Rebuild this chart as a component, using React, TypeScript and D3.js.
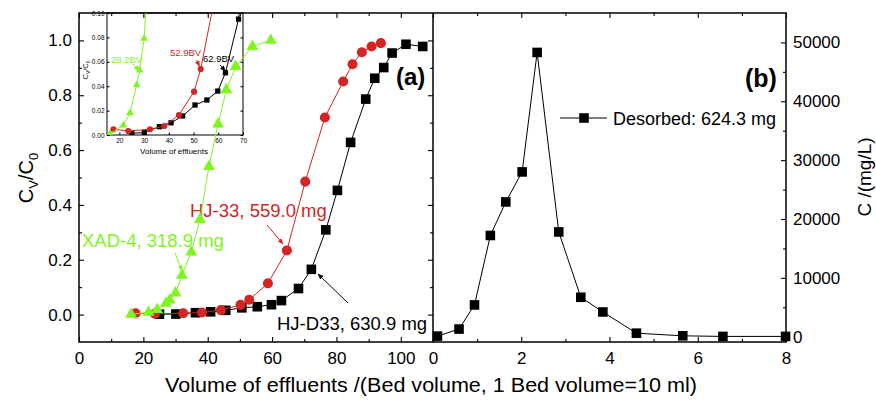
import { useEffect, useRef } from "react";
import * as d3 from "d3";

// (a) breakthrough curves: bed volumes vs C/C0
const xadBV = [16.2, 21.6, 24.3, 27.0, 28.2, 30.0, 32.0, 34.9, 37.6, 40.4, 43.2, 45.8, 48.7, 53.9, 59.6];
const xadC = [0.001, 0.008, 0.018, 0.041, 0.053, 0.079, 0.143, 0.228, 0.347, 0.54, 0.695, 0.82, 0.905, 0.978, 1.0];

const hj33BV = [17.6, 23.6, 32.4, 38.2, 44.1, 50.2, 52.9, 58.7, 64.6, 70.3, 76.4, 82.1, 85.0, 87.9, 90.9, 93.8];
const hj33C = [0.0047, 0.0033, 0.0047, 0.0074, 0.0164, 0.0355, 0.054, 0.114, 0.234, 0.485, 0.719, 0.85, 0.913, 0.957, 0.978, 0.99];

const hjd33BV = [25.0, 30.1, 36.2, 40.9, 45.6, 50.6, 55.4, 59.8, 62.9, 68.2, 72.2, 76.7, 80.3, 84.4, 89.1, 91.9, 94.7, 97.3, 101.6, 106.8];
const hjd33C = [0.0014, 0.002, 0.0068, 0.01, 0.0156, 0.0246, 0.0287, 0.036, 0.051, 0.095, 0.165, 0.309, 0.453, 0.628, 0.786, 0.862, 0.901, 0.954, 0.986, 0.978];

// (b) desorption: bed volumes vs C (mg/L)
const desBV = [0.1, 0.59, 0.94, 1.3, 1.65, 2.02, 2.36, 2.85, 3.35, 3.85, 4.61, 5.66, 6.57, 7.99];
const desC = [100, 1300, 5400, 17200, 22900, 28000, 48300, 17800, 6700, 4200, 600, 150, 50, 50];

const aTicksX = [0, 20, 40, 60, 80, 100];
const aMinorX = [10, 30, 50, 70, 90];
const aTicksY = [0, 0.2, 0.4, 0.6, 0.8, 1.0];
const aMinorY = [0.1, 0.3, 0.5, 0.7, 0.9];
const bTicksX = [0, 2, 4, 6, 8];
const bMinorX = [1, 3, 5, 7];
const bTicksY = [0, 10000, 20000, 30000, 40000, 50000];
const bMinorY = [5000, 15000, 25000, 35000, 45000];
const inTicksX = [20, 30, 40, 50, 60, 70];
const inTicksY = [0, 0.02, 0.04, 0.06, 0.08, 0.1];

const GREEN = "#7ef51f";
const RED = "#d42424";
const FONT = "'Liberation Sans', Arial, Helvetica, sans-serif";

function axis(parent: any, gen: any, transform: string, size: number) {
  const g = parent.append("g").attr("transform", transform).call(gen);
  g.select(".domain").remove();
  g.selectAll(".tick line").attr("stroke", "#000").attr("stroke-width", 1.1);
  g.selectAll(".tick text").attr("font-family", FONT).attr("font-size", size).attr("fill", "#000");
  return g;
}

function series(g: any, xs: number[], ys: number[], x: any, y: any, color: string, shape: any, area: number, lw = 1) {
  const pts = xs.map((d, i) => [x(d), y(ys[i])] as [number, number]);
  g.append("path")
    .attr("d", d3.line()(pts))
    .attr("fill", "none")
    .attr("stroke", color)
    .attr("stroke-width", lw);
  g.selectAll(null)
    .data(pts)
    .join("path")
    .attr("transform", (d: any) => `translate(${d[0]},${d[1]})`)
    .attr("d", d3.symbol().type(shape).size(area)())
    .attr("fill", color);
}

function label(g: any, s: string, x: number, y: number, size: number, color = "#000", extra: any = {}) {
  const t = g.append("text")
    .attr("x", x).attr("y", y)
    .attr("font-family", FONT).attr("font-size", size).attr("fill", color)
    .text(s);
  Object.entries(extra).forEach(([k, v]) => t.attr(k, v));
  return t;
}

function arrow(g: any, x1: number, y1: number, x2: number, y2: number, color: string, id: string) {
  g.append("line")
    .attr("x1", x1).attr("y1", y1).attr("x2", x2).attr("y2", y2)
    .attr("stroke", color).attr("stroke-width", 1)
    .attr("marker-end", `url(#${id})`);
}

function draw(svg: any) {
  const top = 13, bottom = 342, aL = 79, mid = 433, bR = 786;
  const xA = d3.scaleLinear().domain([0, 110]).range([aL, mid]);
  const yA = d3.scaleLinear().domain([-0.1, 1.1]).range([bottom, top]);
  const xB = d3.scaleLinear().domain([0, 8]).range([mid, bR]);
  const yB = d3.scaleLinear().domain([-900, 55000]).range([bottom, top]);
  const inL = 107, inR = 243, inB = 135;
  const xI = d3.scaleLinear().domain([15, 70]).range([inL, inR]);
  const yI = d3.scaleLinear().domain([0, 0.1]).range([inB, top]);

  const defs = svg.append("defs");
  [["ahG", GREEN], ["ahR", RED], ["ahK", "#000"]].forEach(([id, c]) => {
    defs.append("marker")
      .attr("id", id).attr("viewBox", "0 0 10 10").attr("refX", 9).attr("refY", 5)
      .attr("markerWidth", 6).attr("markerHeight", 6).attr("orient", "auto")
      .attr("markerUnits", "userSpaceOnUse")
      .append("path").attr("d", "M0,1L10,5L0,9Z").attr("fill", c);
  });
  defs.append("clipPath").attr("id", "inclip")
    .append("rect").attr("x", inL).attr("y", top).attr("width", inR - inL).attr("height", inB - top);

  const fmt1 = d3.format(".1f");
  // panel (a) axes
  axis(svg, d3.axisBottom(xA).tickValues(aTicksX).tickSize(-5).tickPadding(10).tickFormat(d3.format("d")), `translate(0,${bottom})`, 17);
  axis(svg, d3.axisBottom(xA).tickValues(aMinorX).tickSize(-3).tickFormat(() => ""), `translate(0,${bottom})`, 17);
  axis(svg, d3.axisTop(xA).tickValues(aTicksX).tickSize(-5).tickFormat(() => ""), `translate(0,${top})`, 17);
  axis(svg, d3.axisTop(xA).tickValues(aMinorX).tickSize(-3).tickFormat(() => ""), `translate(0,${top})`, 17);
  axis(svg, d3.axisLeft(yA).tickValues(aTicksY).tickSize(-5).tickPadding(7).tickFormat((d: any) => fmt1(d)), `translate(${aL},0)`, 17);
  axis(svg, d3.axisLeft(yA).tickValues(aMinorY).tickSize(-3).tickFormat(() => ""), `translate(${aL},0)`, 17);
  axis(svg, d3.axisRight(yA).tickValues(aTicksY).tickSize(-5).tickFormat(() => ""), `translate(${mid},0)`, 17);
  axis(svg, d3.axisRight(yA).tickValues(aMinorY).tickSize(-3).tickFormat(() => ""), `translate(${mid},0)`, 17);

  // panel (b) axes
  axis(svg, d3.axisBottom(xB).tickValues(bTicksX).tickSize(-5).tickPadding(10).tickFormat(d3.format("d")), `translate(0,${bottom})`, 17);
  axis(svg, d3.axisBottom(xB).tickValues(bMinorX).tickSize(-3).tickFormat(() => ""), `translate(0,${bottom})`, 17);
  axis(svg, d3.axisTop(xB).tickValues(bTicksX).tickSize(-5).tickFormat(() => ""), `translate(0,${top})`, 17);
  axis(svg, d3.axisTop(xB).tickValues(bMinorX).tickSize(-3).tickFormat(() => ""), `translate(0,${top})`, 17);
  axis(svg, d3.axisRight(yB).tickValues(bTicksY).tickSize(-5).tickPadding(7).tickFormat(d3.format("d")), `translate(${bR},0)`, 17);
  axis(svg, d3.axisRight(yB).tickValues(bMinorY).tickSize(-3).tickFormat(() => ""), `translate(${bR},0)`, 17);

  // frames
  svg.append("rect").attr("x", aL).attr("y", top).attr("width", bR - aL).attr("height", bottom - top)
    .attr("fill", "none").attr("stroke", "#000").attr("stroke-width", 1.5);
  svg.append("line").attr("x1", mid).attr("x2", mid).attr("y1", top).attr("y2", bottom)
    .attr("stroke", "#000").attr("stroke-width", 1.5);

  // axis titles
  label(svg, "Volume of effluents /(Bed volume, 1 Bed volume=10 ml)", 431, 392, 20, "#000", { "text-anchor": "middle", textLength: 532, lengthAdjust: "spacingAndGlyphs" });
  const yl = svg.append("text").attr("transform", "translate(33,178) rotate(-90)")
    .attr("font-family", FONT).attr("font-size", 20).attr("text-anchor", "middle");
  yl.append("tspan").text("C");
  yl.append("tspan").text("V").attr("font-size", 13).attr("dy", 5);
  yl.append("tspan").text("/C").attr("dy", -5);
  yl.append("tspan").text("0").attr("font-size", 13).attr("dy", 5);
  label(svg, "C /(mg/L)", 0, 0, 19, "#000", { transform: "translate(871,177) rotate(-90)", "text-anchor": "middle" });

  label(svg, "(a)", 396, 85, 24, "#000", { "font-weight": "bold" });
  label(svg, "(b)", 745, 87, 25, "#000", { "font-weight": "bold" });

  // panel (a) annotations (text under the data lines)
  label(svg, "XAD-4, 318.9 mg", 82, 247, 18.5, GREEN);
  label(svg, "HJ-33, 559.0 mg", 190, 217, 18.5, RED);
  label(svg, "HJ-D33, 630.9 mg", 277, 330, 18.5, "#000");
  arrow(svg, 175, 253, 182, 271, GREEN, "ahG");
  arrow(svg, 267, 225, 283, 244, RED, "ahR");
  arrow(svg, 348, 303, 318, 274, "#000", "ahK");

  // inset
  const ins = svg.append("g");
  ins.append("rect").attr("x", inL).attr("y", top).attr("width", inR - inL).attr("height", inB - top)
    .attr("fill", "none").attr("stroke", "#000").attr("stroke-width", 1);
  axis(ins, d3.axisBottom(xI).tickValues(inTicksX).tickSize(-2.5).tickPadding(3).tickFormat(d3.format("d")), `translate(0,${inB})`, 6.5);
  axis(ins, d3.axisLeft(yI).tickValues(inTicksY).tickSize(-2.5).tickPadding(2.5).tickFormat(d3.format(".2f")), `translate(${inL},0)`, 6.5);
  axis(ins, d3.axisRight(yI).tickValues(inTicksY).tickSize(-2.5).tickFormat(() => ""), `translate(${inR},0)`, 6.5);
  label(ins, "Volume of effluents", 174, 154, 8, "#000", { "text-anchor": "middle" });
  const il = ins.append("text").attr("transform", "translate(88,70) rotate(-90)")
    .attr("font-family", FONT).attr("font-size", 7.5).attr("text-anchor", "middle");
  il.append("tspan").text("C");
  il.append("tspan").text("V").attr("font-size", 5).attr("dy", 2);
  il.append("tspan").text("/C").attr("dy", -2);
  il.append("tspan").text("0").attr("font-size", 5).attr("dy", 2);

  label(ins, "28.2BV", 111, 63, 9.5, GREEN);
  label(ins, "52.9BV", 170, 56, 9.5, RED);
  label(ins, "62.9BV", 203, 62, 9.5, "#000");
  const insData = ins.append("g").attr("clip-path", "url(#inclip)");
  arrow(insData, 133, 64, 139.5, 70.5, GREEN, "ahG");
  arrow(insData, 196.5, 60, 199.5, 66.5, RED, "ahR");
  arrow(insData, 220, 65, 225.5, 71, "#000", "ahK");
  series(insData, hjd33BV, hjd33C, xI, yI, "#000", d3.symbolSquare, 28);
  series(insData, hj33BV, hj33C, xI, yI, RED, d3.symbolCircle, 30);
  series(insData, xadBV, xadC, xI, yI, GREEN, d3.symbolTriangle, 26);

  // panel (a) data
  const gA = svg.append("g");
  series(gA, hjd33BV, hjd33C, xA, yA, "#000", d3.symbolSquare, 92);
  series(gA, hj33BV, hj33C, xA, yA, RED, d3.symbolCircle, 80);
  series(gA, xadBV, xadC, xA, yA, GREEN, d3.symbolTriangle, 62);

  // panel (b) data + legend
  const gB = svg.append("g");
  series(gB, desBV, desC, xB, yB, "#000", d3.symbolSquare, 92);
  gB.append("line").attr("x1", 560).attr("x2", 607).attr("y1", 118).attr("y2", 118).attr("stroke", "#000").attr("stroke-width", 1);
  gB.append("path").attr("transform", "translate(584,118)").attr("d", d3.symbol().type(d3.symbolSquare).size(92)()).attr("fill", "#000");
  label(gB, "Desorbed: 624.3 mg", 613, 124.5, 18);
}

export default function App() {
  const ref = useRef<SVGSVGElement>(null);
  useEffect(() => {
    const svg = d3.select(ref.current);
    svg.selectAll("*").remove();
    draw(svg);
  }, []);
  return (
    <svg
      ref={ref}
      width={876}
      height={403}
      style={{ position: "absolute", left: 0, top: 0, background: "#fff" }}
    />
  );
}
